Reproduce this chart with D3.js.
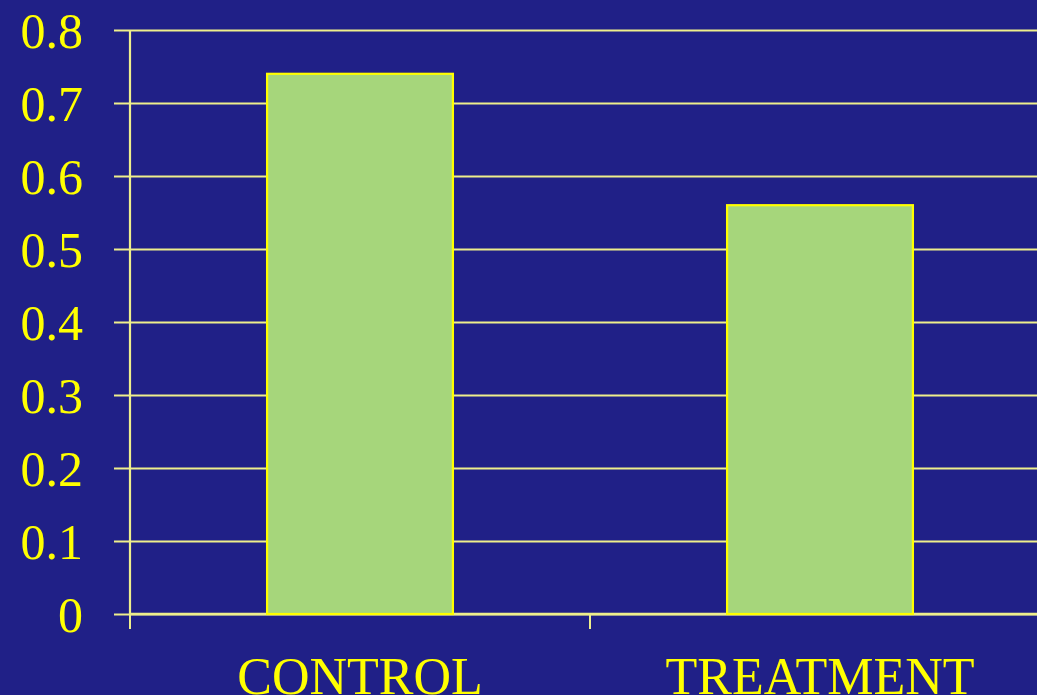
<!DOCTYPE html>
<html>
<head>
<meta charset="utf-8">
<script src="https://cdn.jsdelivr.net/npm/d3@7"></script>
<style>
    html, body { margin: 0; padding: 0; background: #202087; overflow: hidden; }
    #chart { width: 1037px; height: 695px; }
    text { font-family: "Liberation Serif", "DejaVu Serif", serif; fill: #ffff00; }
</style>
</head>
<body>
<div id="chart"></div>
<script>
// data
let categories = ["CONTROL", "TREATMENT"];
let values = [0.74, 0.56];
let yTicks = [0, 0.1, 0.2, 0.3, 0.4, 0.5, 0.6, 0.7, 0.8];
let yTickLabels = ["0", "0.1", "0.2", "0.3", "0.4", "0.5", "0.6", "0.7", "0.8"];

let margin = {top: 30, left: 130};
let width = 920, height = 584;
let gridColor = "#eeee8c";

let svg = d3.select("#chart").append("svg")
    .attr("width", 1037)
    .attr("height", 695);

svg.append("rect")
    .attr("width", 1037)
    .attr("height", 695)
    .attr("fill", "#202087");

let g = svg.append("g")
    .attr("transform", `translate(${margin.left}, ${margin.top})`);

let x = d3.scaleBand()
    .domain(categories)
    .range([0, width])
    .paddingInner(0.596)
    .paddingOuter(0.298);

let y = d3.scaleLinear()
    .domain([0, 0.8])
    .range([height, 0]);

// y axis with gridlines
let yAxis = d3.axisLeft(y)
    .tickValues(yTicks)
    .tickFormat((d, i) => yTickLabels[i])
    .tickSize(-width - 16)
    .tickPadding(31);

let yg = g.append("g")
    .attr("class", "y-axis")
    .attr("transform", "translate(-16,0)")
    .call(yAxis);
yg.select(".domain").remove();
yg.selectAll(".tick line")
    .attr("stroke", gridColor)
    .attr("stroke-width", 2.2);
yg.selectAll(".tick text")
    .attr("x", -31 + 16 - 16)
    .style("font-size", "50px")
    .attr("dy", "0.34em")
    .attr("fill", "#ffff00");

// axis lines
g.append("line")
    .attr("x1", 0).attr("x2", 0)
    .attr("y1", 0).attr("y2", height)
    .attr("stroke", gridColor)
    .attr("stroke-width", 2.2);

g.append("line")
    .attr("x1", 0).attr("x2", width)
    .attr("y1", height).attr("y2", height)
    .attr("stroke", gridColor)
    .attr("stroke-width", 2.5);

// category boundary ticks
g.selectAll(".x-tick")
    .data(categories)
    .enter().append("line")
    .attr("class", "x-tick")
    .attr("x1", (d, i) => i * x.step())
    .attr("x2", (d, i) => i * x.step())
    .attr("y1", height)
    .attr("y2", height + 15)
    .attr("stroke", gridColor)
    .attr("stroke-width", 2);

// bars
g.selectAll(".bar")
    .data(values)
    .enter().append("rect")
    .attr("class", "bar")
    .attr("x", (d, i) => x(categories[i]))
    .attr("y", d => y(d))
    .attr("width", x.bandwidth())
    .attr("height", d => height - y(d))
    .attr("fill", "#a6d67b")
    .attr("stroke", "#ffff00")
    .attr("stroke-width", 2.2);

// category labels
g.selectAll(".x-label")
    .data(categories)
    .enter().append("text")
    .attr("class", "x-label")
    .attr("x", d => x(d) + x.bandwidth() / 2)
    .attr("y", 664)
    .attr("text-anchor", "middle")
    .style("font-size", "52px")
    .text(d => d);
</script>
</body>
</html>
